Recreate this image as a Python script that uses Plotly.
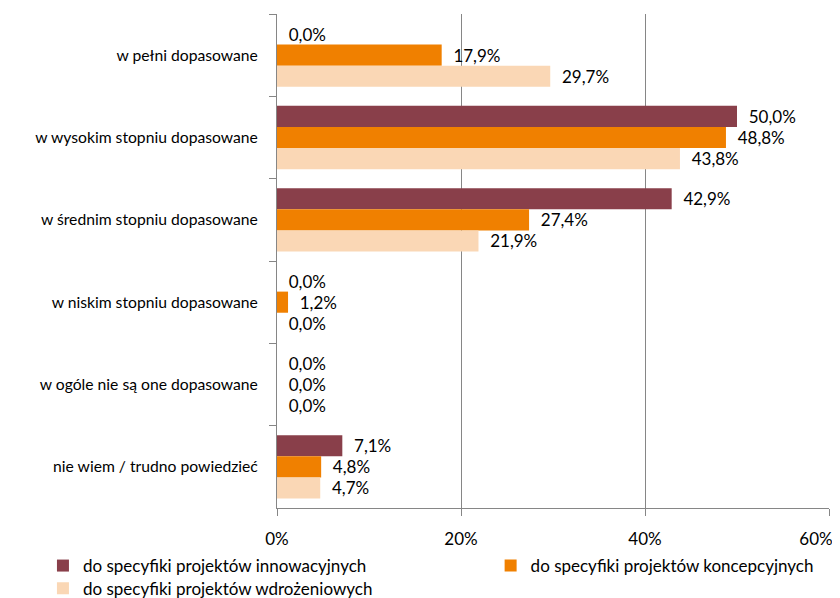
import plotly.graph_objects as go

categories = [
    "w pełni dopasowane",
    "w wysokim stopniu dopasowane",
    "w średnim stopniu dopasowane",
    "w niskim stopniu dopasowane",
    "w ogóle nie są one dopasowane",
    "nie wiem / trudno powiedzieć",
]
series_names = [
    "do specyfiki projektów innowacyjnych",
    "do specyfiki projektów koncepcyjnych",
    "do specyfiki projektów wdrożeniowych",
]
innowacyjnych = [0.0, 50.0, 42.9, 0.0, 0.0, 7.1]
koncepcyjnych = [17.9, 48.8, 27.4, 1.2, 0.0, 4.8]
wdrozeniowych = [29.7, 43.8, 21.9, 0.0, 0.0, 4.7]
colors = ["#893F4A", "#F08000", "#FAD7B5"]
tick_vals = [0, 20, 40, 60]
tick_text = ["0%", "20%", "40%", "60%"]

FONT = "Lato, 'Open Sans', sans-serif"
legend_ids = ["legend", "legend2", "legend3"]

# keep the last tick label inside the page (shift it left with trailing nbsp)
shown_ticks = tick_text[:-1] + [tick_text[-1] + "\u00a0" * 6]

fig = go.Figure()
for name, vals, col, lg in zip(series_names, [innowacyjnych, koncepcyjnych, wdrozeniowych], colors, legend_ids):
    fig.add_trace(go.Bar(
        y=categories, x=vals, name=name, orientation="h",
        marker=dict(color=col, line=dict(width=0)),
        text=["  " + f"{v:.1f}".replace(".", ",") + "%" for v in vals],
        textposition="outside", cliponaxis=False,
        textfont=dict(size=17, color="#000000", family=FONT),
        legend=lg,
    ))

leg_common = dict(orientation="h", xanchor="left", yanchor="top",
                  font=dict(size=17, family=FONT), itemwidth=30,
                  bgcolor="rgba(0,0,0,0)")

fig.update_layout(
    width=840, height=598,
    margin=dict(l=269, r=19, t=6, b=98, autoexpand=False),
    barmode="group", bargap=0.23, bargroupgap=0,
    plot_bgcolor="white", paper_bgcolor="white",
    font=dict(family=FONT, size=16, color="#000000"),
    xaxis=dict(
        range=[0, 60], tickvals=tick_vals, ticktext=shown_ticks,
        showgrid=True, gridcolor="#868686", gridwidth=1,
        showline=True, linecolor="#868686", linewidth=1,
        ticks="outside", ticklen=7, tickcolor="#868686",
        tickfont=dict(size=17), zeroline=False,
        ticklabelstandoff=9, ticklabeloverflow="allow",
    ),
    yaxis=dict(
        autorange="reversed", showline=True, linecolor="#868686", linewidth=1,
        ticks="outside", ticklen=7, tickcolor="#868686", tickson="boundaries",
        showgrid=False, tickfont=dict(size=15.7), ticklabelstandoff=15,
    ),
    legend=dict(x=-0.424, y=-0.081, **leg_common),
    legend2=dict(x=0.387, y=-0.081, **leg_common),
    legend3=dict(x=-0.424, y=-0.127, **leg_common),
    showlegend=True,
)

fig.write_html("out.html")
